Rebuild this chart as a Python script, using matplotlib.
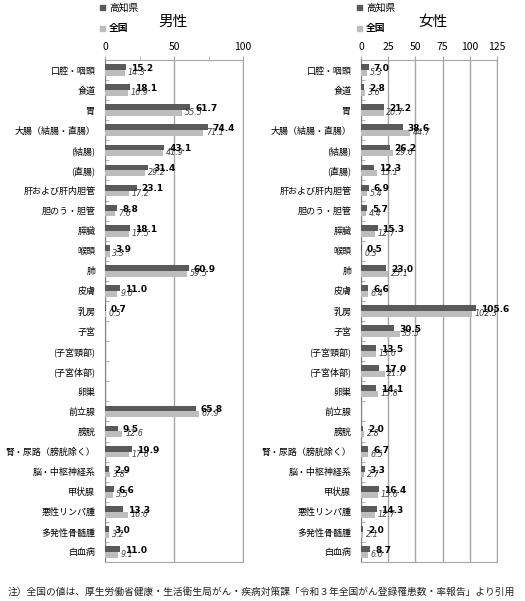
import matplotlib
matplotlib.use("Agg")
import matplotlib.pyplot as plt
import numpy as np

plt.rcParams['font.family'] = ['Noto Sans CJK JP', 'DejaVu Sans']

categories = ["口腔・咽頭", "食道", "胃", "大腸（結腸・直腸）", "(結腸)", "(直腸)",
              "肝および肝内胆管", "胆のう・胆管", "膵臓", "喉頭", "肺", "皮膚", "乳房",
              "子宮", "(子宮頸部)", "(子宮体部)", "卵巣", "前立腺", "膀胱",
              "腎・尿路（膀胱除く）", "脳・中枢神経系", "甲状腺", "悪性リンパ腫",
              "多発性骨髄腫", "白血病"]

male_kochi = [15.2, 18.1, 61.7, 74.4, 43.1, 31.4, 23.1, 8.8, 18.1, 3.9, 60.9, 11.0, 0.7,
              None, None, None, None, 65.8, 9.5, 19.9, 2.9, 6.6, 13.3, 3.0, 11.0]
male_japan = [14.3, 16.9, 55.5, 71.1, 41.9, 29.2, 17.2, 7.6, 17.5, 3.3, 59.5, 9.0, 0.5,
              None, None, None, None, 67.9, 12.6, 17.6, 3.8, 5.5, 16.6, 3.2, 9.1]
female_kochi = [7.0, 2.8, 21.2, 38.6, 26.2, 12.3, 6.9, 5.7, 15.3, 0.5, 23.0, 6.6, 105.6,
                30.5, 13.5, 17.0, 14.1, None, 2.0, 6.7, 3.3, 16.4, 14.3, 2.0, 8.7]
female_japan = [5.3, 3.6, 20.7, 44.7, 29.6, 15.1, 5.4, 4.4, 12.7, 0.3, 25.1, 6.4, 102.3,
                35.5, 13.6, 21.7, 15.8, None, 2.8, 6.5, 2.7, 15.6, 12.7, 2.1, 6.0]

series_names = ["高知県", "全国"]
panel_titles = ["男性", "女性"]
male_ticks = [0, 50, 100]
female_ticks = [0, 25, 50, 75, 100, 125]

footnote = "注）全国の値は、厚生労働省健康・生活衛生局がん・疾病対策課「令和３年全国がん登録罹患数・率報告」より引用"

DARK = "#5a5a5a"
LIGHT = "#bdbdbd"
GRID = "#a6a6a6"

W, H = 525, 601
fig = plt.figure(figsize=(W / 100, H / 100), dpi=100)

def ax_rect(x0, x1, y0, y1):
    return [x0 / W, 1 - y1 / H, (x1 - x0) / W, (y1 - y0) / H]

panels = [
    (ax_rect(105, 243, 60, 562), male_kochi, male_japan, male_ticks, (0, 100), [25, 75]),
    (ax_rect(361, 497, 60, 562), female_kochi, female_japan, female_ticks, (0, 125), []),
]

n = len(categories)
ypos = np.arange(n)
bh = 0.29

for rect, kochi, japan, ticks, xlim, minor in panels:
    ax = fig.add_axes(rect)
    kv = [np.nan if v is None else v for v in kochi]
    jv = [np.nan if v is None else v for v in japan]
    ax.barh(ypos - bh / 2, kv, height=bh, color=DARK, zorder=3)
    ax.barh(ypos + bh / 2, jv, height=bh, color=LIGHT, zorder=3)
    for i in range(n):
        if kochi[i] is not None:
            ax.annotate(f"{kochi[i]:.1f}", (kochi[i], ypos[i] - bh / 2), xytext=(3.5, -1.0),
                        textcoords="offset points", fontsize=6.5, fontweight="bold",
                        va="center", ha="left", color="black", zorder=5,
                        family=['DejaVu Sans'])
        if japan[i] is not None:
            ax.annotate(f"{japan[i]:.1f}", (japan[i], ypos[i] + bh / 2), xytext=(2.0, 0.3),
                        textcoords="offset points", fontsize=5.8, fontstyle="italic",
                        va="center", ha="left", color="#404040", zorder=4,
                        family=['DejaVu Sans'])
    ax.set_xlim(*xlim)
    ax.set_ylim(n - 0.5, -0.5)
    ax.set_xticks(ticks)
    ax.set_xticklabels([str(t) for t in ticks], fontsize=7.5)
    if minor:
        ax.set_xticks(minor, minor=True)
    ax.xaxis.tick_top()
    ax.tick_params(axis="x", which="both", length=3, color=GRID, pad=3, top=True, bottom=False)
    ax.set_yticks(ypos)
    ax.set_yticklabels(categories, fontsize=6.5)
    ax.tick_params(axis="y", which="major", length=0, pad=7)
    ax.set_yticks(np.arange(n + 1) - 0.5, minor=True)
    ax.tick_params(axis="y", which="minor", length=3, direction="in", color=GRID)
    ax.grid(axis="x", which="major", color=GRID, linewidth=1.0, zorder=0)
    for s in ["top", "right", "bottom"]:
        ax.spines[s].set_color(GRID)
    ax.spines["left"].set_color("#808080")

# titles and legends
for x_title, title, lx in zip([173, 433], panel_titles, [100, 357]):
    fig.text(x_title / W, 1 - 22 / H, title, fontsize=10.5, ha="center", va="center")
    fig.patches.append(plt.Rectangle((lx / W, 1 - 10 / H), 5 / W, 5 / H, color=DARK,
                                     transform=fig.transFigure, figure=fig))
    fig.text((lx + 9) / W, 1 - 7.5 / H, series_names[0], fontsize=7, fontstyle="italic",
             ha="left", va="center")
    fig.patches.append(plt.Rectangle((lx / W, 1 - 31 / H), 5 / W, 5 / H, color=LIGHT,
                                     transform=fig.transFigure, figure=fig))
    fig.text((lx + 9) / W, 1 - 28.5 / H, series_names[1], fontsize=7, fontweight="bold",
             ha="left", va="center")

fig.text(8 / W, 1 - 592 / H, footnote, fontsize=7, ha="left", va="center", color="#222222")

fig.savefig("out.png", dpi=100, facecolor="white")
